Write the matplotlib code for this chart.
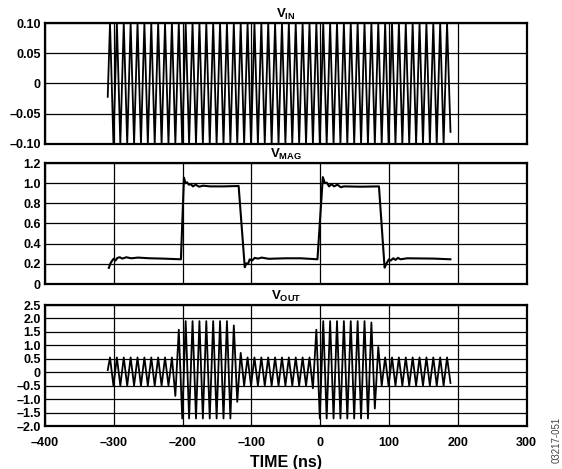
import numpy as np
import matplotlib
matplotlib.use("Agg")
from matplotlib import pyplot as plt

plt.rcParams["font.family"] = ["Liberation Sans", "DejaVu Sans"]
plt.rcParams["font.weight"] = "bold"
plt.rcParams["axes.labelweight"] = "bold"
plt.rcParams["mathtext.fontset"] = "custom"
plt.rcParams["mathtext.rm"] = "Liberation Sans:bold"
plt.rcParams["mathtext.it"] = "Liberation Sans:bold"
plt.rcParams["mathtext.bf"] = "Liberation Sans:bold"

# Carrier extremes sit on a regular 5 ns grid (100 MHz carrier)
peak_t0 = -305.5
half_period = 5.0

# V_IN: extremes of the input carrier (V)
vin_peaks = [
    0.1, -0.1, 0.1, -0.1, 0.1, -0.1, 0.1, -0.1, 0.1, -0.1,
    0.1, -0.1, 0.1, -0.1, 0.1, -0.1, 0.1, -0.1, 0.1, -0.1,
    0.1, -0.1, 0.1, -0.1, 0.1, -0.1, 0.1, -0.1, 0.1, -0.1,
    0.1, -0.1, 0.1, -0.1, 0.1, -0.1, 0.1, -0.1, 0.1, -0.1,
    0.1, -0.1, 0.1, -0.1, 0.1, -0.1, 0.1, -0.1, 0.1, -0.1,
    0.1, -0.1, 0.1, -0.1, 0.1, -0.1, 0.1, -0.1, 0.1, -0.1,
    0.1, -0.1, 0.1, -0.1, 0.1, -0.1, 0.1, -0.1, 0.1, -0.1,
    0.1, -0.1, 0.1, -0.1, 0.1, -0.1, 0.1, -0.1, 0.1, -0.1,
    0.1, -0.1, 0.1, -0.1, 0.1, -0.1, 0.1, -0.1, 0.1, -0.1,
    0.1, -0.1, 0.1, -0.1, 0.1, -0.1, 0.1, -0.1, 0.1,
]
vin_ends_t = [-308.8, 189.5]
vin_ends_v = [-0.022, -0.08]

# V_OUT: extremes of the output carrier (V)
vout_peaks = [
    0.55, -0.5, 0.55, -0.5, 0.55, -0.5, 0.55, -0.5, 0.55, -0.5,
    0.55, -0.5, 0.55, -0.5, 0.55, -0.5, 0.55, -0.5, 0.55, -0.88,
    1.58, -1.72, 1.9, -1.72, 1.9, -1.72, 1.9, -1.72, 1.9, -1.72,
    1.9, -1.72, 1.9, -1.72, 1.9, -1.72, 1.74, -1.1, 0.72, -0.5,
    0.55, -0.5, 0.55, -0.5, 0.55, -0.5, 0.55, -0.5, 0.55, -0.5,
    0.55, -0.5, 0.55, -0.5, 0.55, -0.5, 0.55, -0.5, 0.55, -0.6,
    1.58, -1.72, 1.9, -1.72, 1.9, -1.72, 1.9, -1.72, 1.9, -1.72,
    1.9, -1.72, 1.9, -1.72, 1.9, -1.72, 1.85, -1.35, 0.94, -0.5,
    0.55, -0.5, 0.55, -0.5, 0.55, -0.5, 0.55, -0.5, 0.55, -0.5,
    0.55, -0.5, 0.55, -0.5, 0.55, -0.5, 0.55, -0.5, 0.55,
]
vout_ends_t = [-308.8, 189.5]
vout_ends_v = [0.08, -0.4]

# V_MAG: envelope detector output
vmag_t = [
    -307.2, -304.8, -302.4, -300.0, -297.6, -294.7, -291.4, -287.6, -281.8,
    -274.6, -265.0, -248.0, -229.0, -202.4,
    -198.0, -195.7, -193.3, -190.9, -188.0, -185.0, -181.0, -176.0, -170.0,
    -160.0, -140.0, -118.5,
    -109.6, -107.2, -104.8, -102.4, -99.0, -95.2, -90.4, -85.0, -75.0,
    -50.0, -28.0, -3.9,
    3.9, 6.8, 9.7, 13.0, 16.4, 20.3, 25.0, 30.0, 34.8, 59.0, 85.5,
    93.7, 96.6, 100.0, 102.4, 106.3, 109.7, 113.0, 116.9, 126.6, 165.0, 189.4,
]
vmag_v = [
    0.16, 0.205, 0.232, 0.252, 0.232, 0.259, 0.265, 0.252, 0.265,
    0.255, 0.262, 0.255, 0.252, 0.245,
    1.054, 1.0, 1.008, 0.985, 0.99, 0.968, 0.985, 0.965, 0.975,
    0.968, 0.968, 0.972,
    0.166, 0.205, 0.199, 0.245, 0.232, 0.259, 0.252, 0.262, 0.25,
    0.255, 0.255, 0.245,
    1.06, 1.0, 1.005, 0.968, 0.99, 0.968, 0.985, 0.96, 0.968, 0.965, 0.968,
    0.162, 0.205, 0.245, 0.232, 0.255, 0.239, 0.259, 0.245, 0.255, 0.252, 0.245,
]

x_ticks = [-400, -300, -200, -100, 0, 100, 200, 300]
vin_ticks = [-0.10, -0.05, 0, 0.05, 0.10]
vin_labels = ["\u20130.10", "\u20130.05", "0", "0.05", "0.10"]
vmag_ticks = [0, 0.2, 0.4, 0.6, 0.8, 1.0, 1.2]
vmag_labels = ["0", "0.2", "0.4", "0.6", "0.8", "1.0", "1.2"]
vout_ticks = [-2.0, -1.5, -1.0, -0.5, 0, 0.5, 1.0, 1.5, 2.0, 2.5]
vout_labels = ["\u20132.0", "\u20131.5", "\u20131.0", "\u20130.5", "0",
               "0.5", "1.0", "1.5", "2.0", "2.5"]


def carrier(peaks, ends_t, ends_v):
    """Join the carrier extremes with the start and end samples."""
    t = peak_t0 + half_period * np.arange(len(peaks))
    t = np.concatenate([[ends_t[0]], t, [ends_t[1]]])
    v = np.concatenate([[ends_v[0]], peaks, [ends_v[1]]])
    return t, v


def style_panel(ax, title, yticks, ylabels, show_x):
    ax.set_xlim(-400, 300)
    ax.set_ylim(yticks[0], yticks[-1])
    ax.set_xticks(x_ticks)
    ax.set_yticks(yticks)
    ax.set_yticklabels(ylabels)
    ax.set_xticklabels([f"\u2013{-x}" if x < 0 else str(x) for x in x_ticks])
    ax.tick_params(length=0, labelsize=9, pad=3)
    ax.tick_params(axis="x", pad=8, labelbottom=show_x)
    ax.grid(True, color="black", linewidth=0.9)
    for spine in ax.spines.values():
        spine.set_linewidth(1.6)
    ax.set_title(title, fontsize=9.5, pad=4)


fig = plt.figure(figsize=(5.62, 4.69), dpi=100)
left, width, height = 45 / 562, 481.5 / 562, 121 / 469
ax_in = fig.add_axes([left, 1 - 144 / 469, width, height])
ax_mag = fig.add_axes([left, 1 - 284 / 469, width, height])
ax_out = fig.add_axes([left, 1 - 426 / 469, width, height])

t, v = carrier(vin_peaks, vin_ends_t, vin_ends_v)
ax_in.plot(t, v, color="black", linewidth=1.3, zorder=3)
style_panel(ax_in, r"$\mathrm{V_{IN}}$", vin_ticks, vin_labels, False)

ax_mag.plot(vmag_t, vmag_v, color="black", linewidth=1.5, zorder=3)
style_panel(ax_mag, r"$\mathrm{V_{MAG}}$", vmag_ticks, vmag_labels, False)

t, v = carrier(vout_peaks, vout_ends_t, vout_ends_v)
ax_out.plot(t, v, color="black", linewidth=1.3, zorder=3)
style_panel(ax_out, r"$\mathrm{V_{OUT}}$", vout_ticks, vout_labels, True)
ax_out.set_xlabel("TIME (ns)", fontsize=11.5, fontweight="bold", labelpad=4)

fig.text(557 / 562, 1 - 440 / 469, "03217-051", rotation=90, fontsize=7,
         fontweight="normal", color="#444444", ha="center", va="center")

plt.savefig("out.png", dpi=100)
